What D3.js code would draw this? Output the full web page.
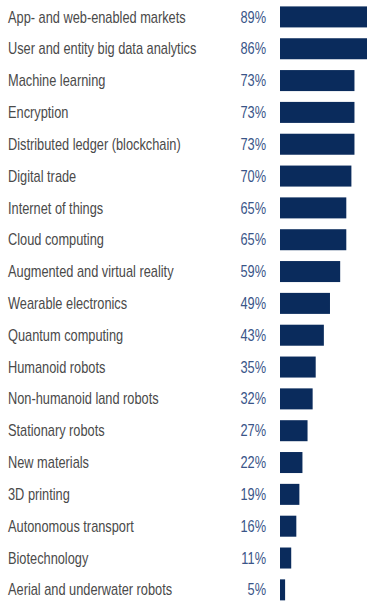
<!DOCTYPE html>
<html><head><meta charset="utf-8">
<script src="https://cdn.jsdelivr.net/npm/d3@7"></script>
<style>
html,body{margin:0;padding:0;background:#fff;}
svg{display:block;}
</style></head>
<body>
<script>
const categories = ["App- and web-enabled markets","User and entity big data analytics","Machine learning","Encryption","Distributed ledger (blockchain)","Digital trade","Internet of things","Cloud computing","Augmented and virtual reality","Wearable electronics","Quantum computing","Humanoid robots","Non-humanoid land robots","Stationary robots","New materials","3D printing","Autonomous transport","Biotechnology","Aerial and underwater robots"];
const values = [89,86,73,73,73,70,65,65,59,49,43,35,32,27,22,19,16,11,5];
const valueLabels = values.map(v => v + "%");

const W = 367, H = 603;
const svg = d3.select("body").append("svg").attr("width", W).attr("height", H);

const y = d3.scaleBand().domain(categories).range([1, 1 + 31.83*19]).paddingInner(0.34).paddingOuter(0.17);
const x = d3.scaleLinear().domain([0, 100]).range([280, 382]);

const font = "'Liberation Sans',Arial,sans-serif";
const narrow = 0.80;

const g = svg.append("g");
g.selectAll("rect").data(values).join("rect")
  .attr("x", x(0))
  .attr("y", (d,i) => y(categories[i]))
  .attr("width", d => x(d) - x(0))
  .attr("height", y.bandwidth())
  .attr("fill", "#0a2b5c");

g.selectAll("text.cat").data(categories).join("text")
  .attr("class","cat")
  .attr("transform", d => `translate(8,${y(d) + y.bandwidth()/2}) scale(${narrow},1)`)
  .attr("dy","0.35em")
  .attr("font-family", font)
  .attr("font-size", 16)
  .attr("fill", "#4a4a4a")
  .text(d => d);

g.selectAll("text.val").data(valueLabels).join("text")
  .attr("class","val")
  .attr("transform", (d,i) => `translate(266,${y(categories[i]) + y.bandwidth()/2}) scale(${narrow},1)`)
  .attr("dy","0.35em")
  .attr("text-anchor","end")
  .attr("font-family", font)
  .attr("font-size", 16)
  .attr("fill", "#3a5588")
  .text(d => d);
</script>
</body></html>
